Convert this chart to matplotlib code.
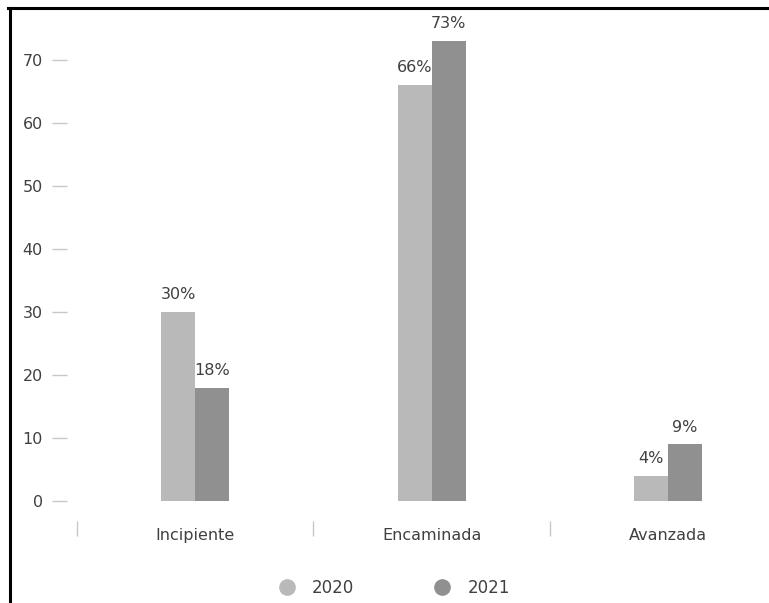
import matplotlib
matplotlib.use("Agg")
import matplotlib.pyplot as plt
from matplotlib.lines import Line2D
import numpy as np

categories = ["Incipiente", "Encaminada", "Avanzada"]
years = ["2020", "2021"]
values_2020 = [30, 66, 4]
values_2021 = [18, 73, 9]
colors = ["#b9b9b9", "#909090"]
text_color = "#404040"
tick_color = "#c8c8c8"

W, H = 769, 603
fig = plt.figure(figsize=(W / 100, H / 100), dpi=100)

# axes placed in pixels: left edge 67, right 769, top 10, bottom 521
left, right, top, bottom = 67, 769, 10, 521
ax = fig.add_axes([left / W, 1 - bottom / H, (right - left) / W, (bottom - top) / H])

px_per_cat = 236.5
x0_px = 195  # centre of first category
ax.set_xlim(-0.5 - (77 - left) / px_per_cat, (right - x0_px) / px_per_cat)
px_per_unit = 6.3
ax.set_ylim(-(bottom - 501) / px_per_unit, (501 - top) / px_per_unit)

fs = 11.5
x = np.arange(len(categories))
bw = 34 / px_per_cat
series = [values_2020, values_2021]
for i, (vals, year) in enumerate(zip(series, years)):
    pos = x + (i - 0.5) * bw
    bars = ax.bar(pos, vals, width=bw, color=colors[i], label=year, zorder=2)
    for b, v in zip(bars, vals):
        ax.annotate(f"{v}%", (b.get_x() + b.get_width() / 2, v),
                    xytext=(0, 7), textcoords="offset points",
                    ha="center", va="bottom", fontsize=fs, color=text_color)

for s in ax.spines.values():
    s.set_visible(False)

ax.set_yticks(range(0, 71, 10))
ax.tick_params(axis="y", length=11, width=1, color=tick_color, pad=6.5,
               labelsize=fs, labelcolor=text_color)

# separators between categories as major ticks, names as minor ticks
ax.set_xticks([-0.5, 0.5, 1.5])
ax.set_xticklabels([])
ax.tick_params(axis="x", which="major", length=10.5, width=1, color=tick_color)
ax.set_xticks(x, minor=True)
ax.set_xticklabels(categories, minor=True)
ax.tick_params(axis="x", which="minor", length=0, pad=5,
               labelsize=fs, labelcolor=text_color)

handles = [Line2D([], [], marker="o", linestyle="", markersize=11,
                  markerfacecolor=c, markeredgecolor=c) for c in colors]
fig.legend(handles, years, loc="center", bbox_to_anchor=(390 / W, 1 - 588 / H),
           ncol=2, frameon=False, fontsize=fs + 0.5, labelcolor=text_color,
           handletextpad=0.5, columnspacing=4.3)

# black frame lines on the left and top edges
fig.add_artist(Line2D([9.5 / W, 9.5 / W], [0, 1 - 7.5 / H], color="black", lw=2.2))
fig.add_artist(Line2D([8 / W, 1], [1 - 7.5 / H, 1 - 7.5 / H], color="black", lw=2.2))

fig.savefig("out.png", dpi=100, facecolor="white")
